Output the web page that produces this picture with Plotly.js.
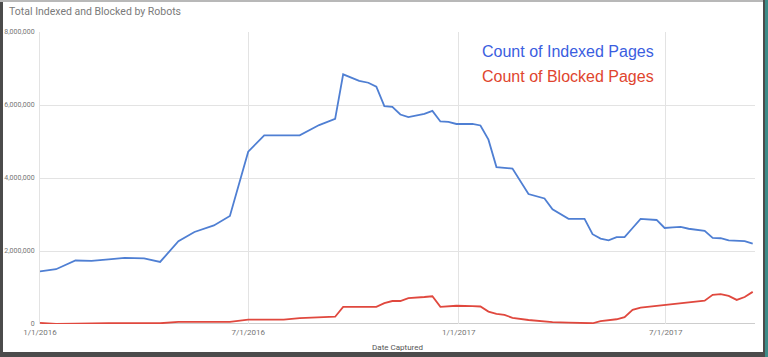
<!DOCTYPE html>
<html>
<head>
<meta charset="utf-8">
<script src="https://cdn.plot.ly/plotly-3.0.1.min.js"></script>
<style>
  html, body { margin: 0; padding: 0; }
  body { width: 768px; height: 357px; background: #4b4b4b; position: relative; overflow: hidden; }
  #teal { position: absolute; left: 765px; top: 0; width: 3px; height: 357px; background: #3d8c88; }
  #topline { position: absolute; left: 0; top: 0; width: 763px; height: 2px; background: #b8b8b8; }
  #chart { position: absolute; left: 3px; top: 2px; width: 760px; height: 350px; background: #fff; }
</style>
</head>
<body>
<div id="topline"></div>
<div id="teal"></div>
<div id="chart"></div>
<script>
const dates = [
  '2016-01-01','2016-01-15','2016-02-01','2016-02-15','2016-03-01','2016-03-15','2016-04-01','2016-04-15',
  '2016-05-01','2016-05-15','2016-06-01','2016-06-15','2016-07-01','2016-07-15','2016-08-01','2016-08-15',
  '2016-09-01','2016-09-15','2016-09-22','2016-10-06','2016-10-14','2016-10-21','2016-10-28','2016-11-04',
  '2016-11-11','2016-11-18','2016-12-02','2016-12-09','2016-12-16','2016-12-23','2016-12-30','2017-01-13',
  '2017-01-20','2017-01-27','2017-02-03','2017-02-10','2017-02-17','2017-03-03','2017-03-17','2017-03-24',
  '2017-04-07','2017-04-21','2017-04-28','2017-05-05','2017-05-12','2017-05-19','2017-05-26','2017-06-02',
  '2017-06-09','2017-06-23','2017-06-30','2017-07-07','2017-07-14','2017-07-21','2017-08-04','2017-08-11',
  '2017-08-18','2017-08-25','2017-09-01','2017-09-08','2017-09-15'
];
const indexedPages = [
  1440000,1500000,1740000,1730000,1770000,1810000,1800000,1700000,
  2270000,2520000,2700000,2960000,4720000,5170000,5170000,5170000,
  5450000,5620000,6840000,6660000,6610000,6500000,5970000,5950000,
  5740000,5670000,5760000,5840000,5550000,5540000,5480000,5480000,
  5440000,5050000,4300000,4280000,4260000,3560000,3440000,3140000,
  2880000,2880000,2460000,2340000,2290000,2380000,2380000,2630000,
  2880000,2850000,2630000,2650000,2660000,2610000,2550000,2360000,
  2350000,2290000,2280000,2270000,2200000
];
const blockedPages = [
  30000,0,10000,20000,20000,20000,20000,20000,
  60000,60000,60000,60000,120000,120000,120000,160000,
  190000,200000,470000,470000,470000,470000,570000,630000,
  630000,710000,740000,760000,470000,490000,500000,490000,
  480000,340000,280000,250000,170000,110000,60000,50000,
  40000,40000,20000,80000,100000,130000,190000,390000,
  450000,500000,520000,560000,580000,590000,640000,800000,
  820000,770000,660000,740000,880000
];
const xTickVals = ['2016-01-01','2016-07-01','2017-01-01','2017-07-01'];
const xTickText = ['1/1/2016','7/1/2016','1/1/2017','7/1/2017'];
const yTickVals = [0,2000000,4000000,6000000,8000000];
const yTickText = ['0','2,000,000','4,000,000','6,000,000','8,000,000'];
const seriesNames = ['Count of Indexed Pages','Count of Blocked Pages'];

const traces = [
  { x: dates, y: indexedPages, name: seriesNames[0], type: 'scatter', mode: 'lines',
    line: { color: '#4f7fd3', width: 1.8 } },
  { x: dates, y: blockedPages, name: seriesNames[1], type: 'scatter', mode: 'lines',
    line: { color: '#e0483e', width: 1.8 } }
];

const layout = {
  width: 760, height: 350,
  margin: { l: 37, r: 8, t: 30, b: 28 },
  paper_bgcolor: '#ffffff', plot_bgcolor: '#ffffff',
  showlegend: false,
  font: { family: 'Roboto, sans-serif', color: '#757575' },
  title: { text: 'Total Indexed and Blocked by Robots', x: 0.008, xanchor: 'left', y: 0.972, yanchor: 'middle',
           font: { size: 10.5, color: '#7a7a7a', family: 'Roboto, sans-serif' } },
  xaxis: {
    type: 'date', range: ['2016-01-01', '2017-09-17'],
    tickvals: xTickVals, ticktext: xTickText, ticks: '',
    tickfont: { size: 8, color: '#757575' },
    ticklabelstandoff: 2,
    showgrid: true, gridcolor: '#e3e3e3', gridwidth: 1,
    showline: false, zeroline: false,
    title: { text: 'Date Captured', font: { size: 8, color: '#555555' }, standoff: 9 }
  },
  yaxis: {
    range: [0, 8000000], tickvals: yTickVals, ticktext: yTickText, ticks: '',
    tickfont: { size: 7, color: '#757575' },
    ticklabelstandoff: 3,
    showgrid: true, gridcolor: '#e3e3e3', gridwidth: 1,
    showline: true, linecolor: '#e3e3e3', linewidth: 1,
    zeroline: false
  },
  shapes: [
    { type: 'line', xref: 'paper', yref: 'y', x0: 0, x1: 1, y0: 0, y1: 0,
      line: { color: '#bdbdbd', width: 1.5 }, layer: 'below' }
  ],
  annotations: [
    { text: seriesNames[0], xref: 'paper', yref: 'paper', x: 0.616, y: 0.932, xanchor: 'left', yanchor: 'middle',
      showarrow: false, font: { family: 'Liberation Sans, Arial, sans-serif', size: 16, color: '#3b5ee0' } },
    { text: seriesNames[1], xref: 'paper', yref: 'paper', x: 0.616, y: 0.847, xanchor: 'left', yanchor: 'middle',
      showarrow: false, font: { family: 'Liberation Sans, Arial, sans-serif', size: 16, color: '#e0452e' } }
  ]
};

Plotly.newPlot('chart', traces, layout, { displayModeBar: false, staticPlot: true });
</script>
</body>
</html>
